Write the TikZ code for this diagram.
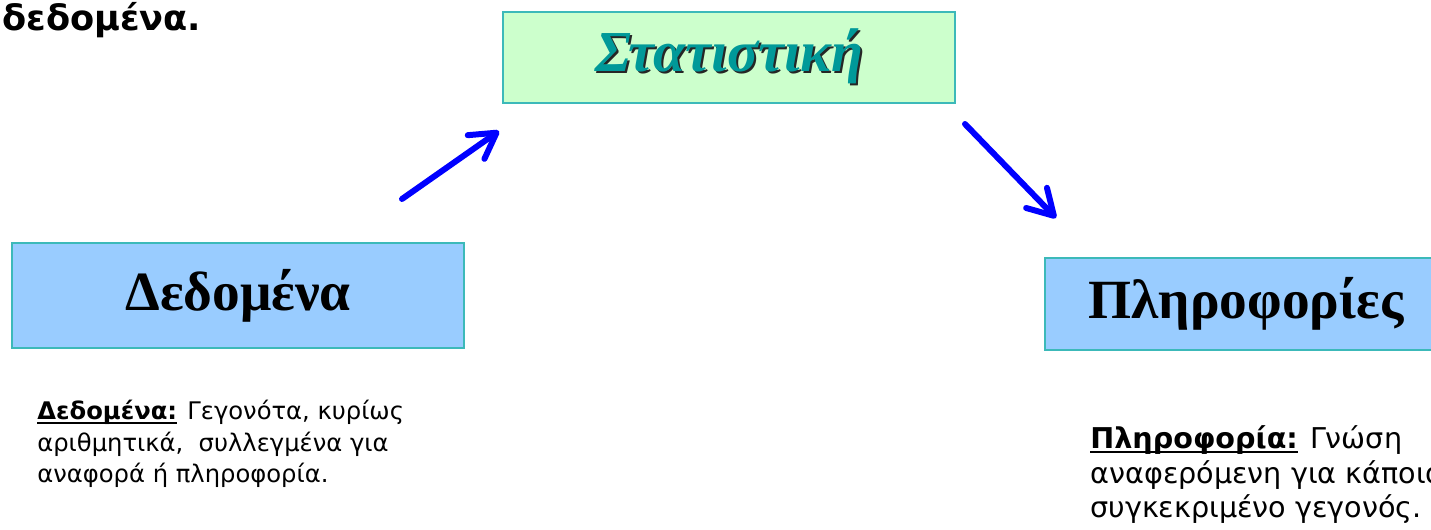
\documentclass[tikz,border=0pt]{standalone}
\usepackage{fontspec}
\usepackage{xcolor}
\usepackage{tikz}
\usetikzlibrary{arrows.meta,positioning}
\setmainfont{Liberation Serif}
\newfontfamily\bodyfont{DejaVu Sans}
\definecolor{boxedge}{HTML}{3CB9B9}
\definecolor{mint}{HTML}{CCFFCC}
\definecolor{skyfill}{HTML}{99CCFF}
\definecolor{tealtext}{HTML}{009999}
\definecolor{pureblue}{HTML}{0000FF}
\newcommand{\shadowed}[1]{{\color{black!85}\rlap{\hspace{1.3pt}\raisebox{-1.3pt}{#1}}}{\color{tealtext}#1}}
\newlength{\ulwd}
\newcommand{\ulabel}[1]{\settowidth{\ulwd}{\textbf{#1}}\rlap{\rule[-2.6pt]{\ulwd}{1.2pt}}\textbf{#1}}

\begin{document}
\begin{tikzpicture}[
  x=0.02cm, y=-0.02cm,
  box/.style={draw=boxedge,line width=1.1pt,align=center,inner sep=0pt,font=\bfseries\fontsize{31.5}{34}\selectfont},
  note/.style={align=left,inner sep=0pt,anchor=north west,font=\bodyfont},
  line/.style={-{Straight Barb[length=5mm,width=5.8mm,round]},line width=3.4pt,draw=pureblue,line cap=round}
]
\clip (0,0) rectangle (1431,530);
\node[anchor=base west,inner sep=0pt,font=\bodyfont\bfseries\fontsize{20}{22}\selectfont] (top) at (2,31) {δεδομένα.};
\node[box,fill=mint,minimum width=9.04cm,minimum height=1.82cm,font=\bfseries\itshape\fontsize{33}{36}\selectfont] (stat) at (729,57.5) {\shadowed{Στατιστική}};
\node[box,fill=skyfill,minimum width=9.04cm,minimum height=2.1cm] (data) at (238,295.5) {Δεδομένα};
\node[box,fill=skyfill,minimum width=8.04cm,minimum height=1.84cm] (info) at (1246,304) {Πληροφορίες};
\node[note,font=\bodyfont\fontsize{13.8}{17.8}\selectfont] (datadef) at (37,400)
  {\ulabel{Δεδομένα:} Γεγονότα, κυρίως\\ αριθμητικά,\ \ συλλεγμένα για\\ αναφορά ή πληροφορία.};
\node[note,font=\bodyfont\fontsize{16.3}{19.8}\selectfont] (infodef) at (1090,425)
  {\ulabel{Πληροφορία:} Γνώση\\ αναφερόμενη για κάποιο\\ συγκεκριμένο γεγονός.};
% arrow ends sit in the gaps between the boxes
\coordinate (up1) at (402,199);
\coordinate (up2) at (499,131);
\coordinate (dn1) at (965,124);
\coordinate (dn2) at (1056,218);
\draw[line] (up1)--(up2);
\draw[line] (dn1)--(dn2);
\end{tikzpicture}
\end{document}
